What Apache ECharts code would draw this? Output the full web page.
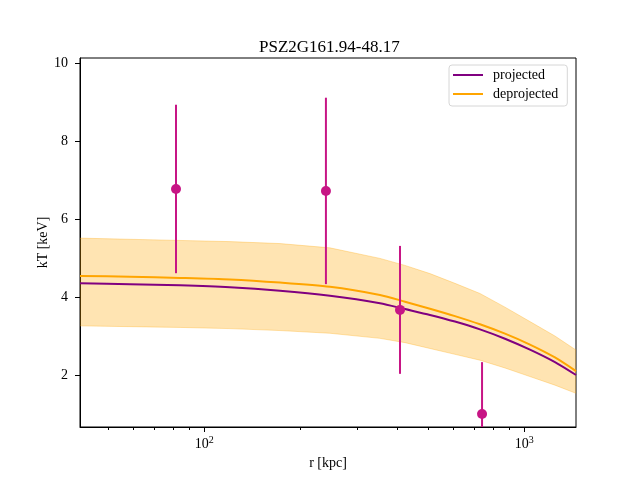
<!DOCTYPE html>
<html><head><meta charset="utf-8">
<script src="https://cdn.jsdelivr.net/npm/echarts@6/dist/echarts.min.js"></script>
<style>html,body{margin:0;padding:0;background:#fff}#c{width:640px;height:480px}</style>
</head><body><div id="c"></div>
<script>
const titleText = 'PSZ2G161.94-48.17';
const rGrid = [40.9,58.6,84.0,120.3,172.4,247.1,354.1,423.9,507.4,607.4,727.2,870.4,1041.8,1247,1451];
const projected   = [4.35,4.33,4.30,4.25,4.16,4.03,3.84,3.69,3.54,3.37,3.17,2.93,2.65,2.33,2.00];
const deprojected = [4.54,4.52,4.49,4.45,4.37,4.26,4.05,3.88,3.70,3.51,3.30,3.06,2.78,2.45,2.10];
const bandLow  = [3.26,3.24,3.22,3.19,3.14,3.07,2.94,2.83,2.68,2.53,2.38,2.18,1.96,1.74,1.53];
const bandHigh = [5.51,5.48,5.45,5.42,5.37,5.26,4.99,4.81,4.60,4.35,4.09,3.74,3.37,3.00,2.64];
const ptR = [81.6, 240, 409, 738];
const ptT = [6.77, 6.72, 3.67, 1.00];
const ptErr = [2.16, 2.39, 1.64, 1.33];
const xMajorTicks = [100, 1000];
const xMinorTicks = [50,60,70,80,90,200,300,400,500,600,700,800,900];
const yTicks = [2,4,6,8,10];

const FONT = 'Liberation Serif';
const pairs = (xs, ys) => xs.map((x,i)=>[x, ys[i]]);
const chart = echarts.init(document.getElementById('c'), null, {renderer:'canvas'});
const xMin = 40.9, xMax = 1451;
chart.setOption({
  animation:false,
  title:{text:titleText, left:254, top:34,
    textStyle:{fontFamily:FONT, fontSize:17, fontWeight:'normal', color:'#000'}},
  legend:{left:449, top:65, orient:'vertical', itemWidth:30, itemHeight:2, itemGap:5,
    padding:[3,9,5,4], borderColor:'#d6d6d6', borderWidth:1, borderRadius:3, backgroundColor:'#fff',
    icon:'rect', data:['projected','deprojected'],
    textStyle:{fontFamily:FONT, fontSize:14, color:'#000', padding:[0,0,0,5]}},
  grid:{left:80, right:64, top:58, bottom:53, show:true, borderColor:'#000', borderWidth:1, backgroundColor:'transparent'},
  xAxis:[{type:'log', logBase:10, min:xMin, max:xMax, name:'r [kpc]', nameLocation:'middle', nameGap:29,
    nameMoveOverlap:false,
    nameTextStyle:{fontFamily:FONT, fontSize:14, color:'#000'},
    axisLine:{lineStyle:{color:'#000', width:1}},
    axisTick:{customValues:xMajorTicks, length:5, lineStyle:{color:'#000'}},
    axisLabel:{customValues:xMajorTicks, margin:8, color:'#000',
      formatter:v=>'{b|10}{s|'+Math.round(Math.log10(v))+'}',
      rich:{b:{fontFamily:FONT, fontSize:14, color:'#000'}, s:{fontFamily:FONT, fontSize:10, color:'#000', padding:[0,0,8,0]}}},
    splitLine:{show:false}, minorTick:{show:false}},
    {type:'log', logBase:10, min:xMin, max:xMax, gridIndex:0, position:'bottom',
    axisLine:{show:false}, axisLabel:{show:false}, splitLine:{show:false},
    axisTick:{customValues:xMinorTicks, length:3, lineStyle:{color:'#000'}}}],
  yAxis:{type:'value', min:0.667, max:10.128, name:'kT [keV]', nameLocation:'middle', nameGap:30,
    nameMoveOverlap:false,
    nameTextStyle:{fontFamily:FONT, fontSize:14, color:'#000'},
    axisLine:{show:true, lineStyle:{color:'#000', width:1}},
    axisTick:{show:true, customValues:yTicks, length:5, lineStyle:{color:'#000'}},
    axisLabel:{customValues:yTicks, margin:12, fontFamily:FONT, fontSize:14, color:'#000'},
    splitLine:{show:false}},
  series:[
    {name:'band', type:'custom', xAxisIndex:0, clip:true, z:1, silent:true,
      data:rGrid.map((r,i)=>[r, bandLow[i], bandHigh[i]]),
      encode:{x:0, y:[1,2]},
      renderItem:(params, api)=>{
        if (params.dataIndex !== 0) return null;
        const top = rGrid.map((r,i)=>api.coord([r, bandHigh[i]]));
        const bot = rGrid.map((r,i)=>api.coord([r, bandLow[i]])).reverse();
        return {type:'group', children:[
          {type:'polygon', shape:{points:top.concat(bot)}, style:{fill:'rgba(255,165,0,0.3)', stroke:null}},
          {type:'polyline', shape:{points:top}, style:{stroke:'rgba(255,165,0,0.3)', lineWidth:1, fill:null}},
          {type:'polyline', shape:{points:bot}, style:{stroke:'rgba(255,165,0,0.3)', lineWidth:1, fill:null}}
        ]};
      }},
    {name:'projected', type:'line', xAxisIndex:0, data:pairs(rGrid,projected), smooth:0.25, symbol:'none',
      itemStyle:{color:'#800080'}, lineStyle:{color:'#800080', width:2}, z:3},
    {name:'deprojected', type:'line', xAxisIndex:0, data:pairs(rGrid,deprojected), smooth:0.25, symbol:'none',
      itemStyle:{color:'#ffa500'}, lineStyle:{color:'#ffa500', width:2}, z:2},
    {name:'errors', type:'custom', xAxisIndex:0, clip:true, z:4,
      data:ptR.map((r,i)=>[r, ptT[i]-ptErr[i], ptT[i]+ptErr[i]]),
      encode:{x:0, y:[1,2]},
      renderItem:(params, api)=>{
        const a = api.coord([api.value(0), api.value(1)]);
        const b = api.coord([api.value(0), api.value(2)]);
        return {type:'line', shape:{x1:a[0], y1:a[1], x2:b[0], y2:b[1]}, style:{stroke:'#c71585', lineWidth:2}};
      }},
    {name:'points', type:'scatter', xAxisIndex:0, data:pairs(ptR,ptT), symbolSize:10,
      itemStyle:{color:'#c71585', opacity:1}, z:5}
  ]
});
</script></body></html>
